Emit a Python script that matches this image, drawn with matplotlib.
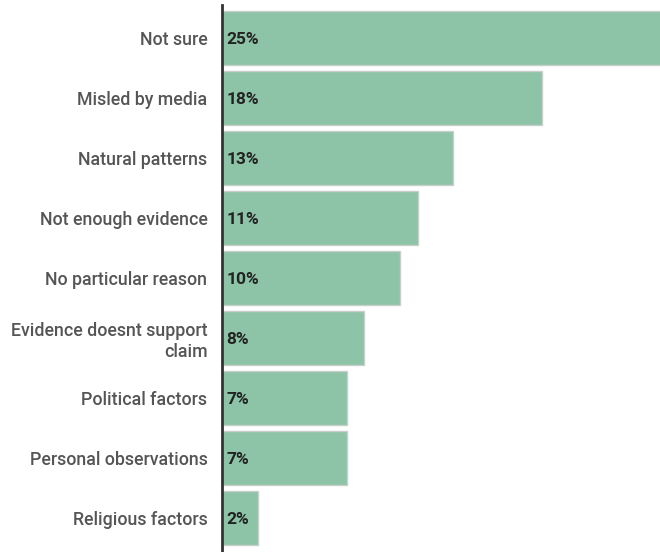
import matplotlib.pyplot as plt

categories = ['Not sure', 'Misled by media', 'Natural patterns', 'Not enough evidence',
              'No particular reason', 'Evidence doesnt support\nclaim', 'Political factors',
              'Personal observations', 'Religious factors']
values = [25, 18, 13, 11, 10, 8, 7, 7, 2]

plt.rcParams['font.family'] = ['Roboto', 'DejaVu Sans']

fig = plt.figure(figsize=(6.6, 5.52), dpi=100)
ax = fig.add_axes([222 / 660, 0, 1 - 222 / 660, 1 - 5 / 552])

pos = list(range(len(categories)))
ax.barh(pos, values, height=0.9, color='#8dc3a7', edgecolor='#c8cfcb', linewidth=1)

# percentage labels just inside the start of each bar
for p, v in zip(pos, values):
    ax.text(0.25, p + 0.03, f'{v}%', va='center', ha='left', fontsize=12.5,
            fontweight='bold', color='#222222')

ax.set_yticks(pos)
ax.set_yticklabels(categories, fontsize=12.8, fontweight='medium', color='#555555',
                   linespacing=1.2)
ax.tick_params(axis='y', length=0, pad=10.5)
ax.set_xticks([])
ax.set_xlim(0, 24.6)
ax.set_ylim(8.567, -0.55)

for s in ['top', 'right', 'bottom']:
    ax.spines[s].set_visible(False)
ax.spines['left'].set_color('#333333')
ax.spines['left'].set_linewidth(2)

fig.savefig('out.png', dpi=100)
